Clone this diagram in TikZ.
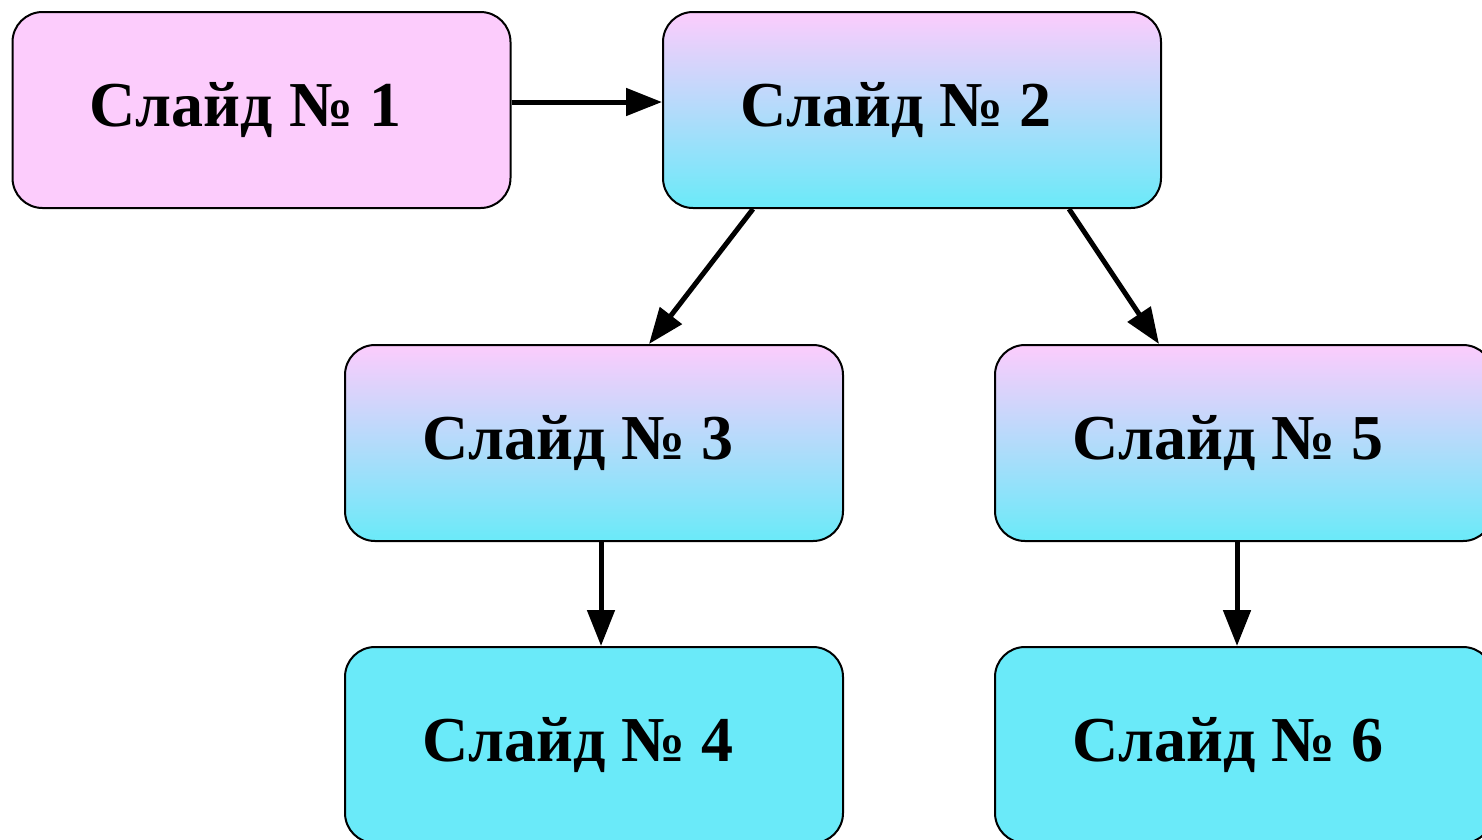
\documentclass[tikz,border=0pt]{standalone}
\usepackage{fontspec}
\setmainfont{Liberation Serif}
\usetikzlibrary{arrows.meta}
\definecolor{pinkc}{HTML}{FCCCFC}
\definecolor{cyanc}{HTML}{6AEAF9}
\tikzset{
  slide/.style={draw=black, line width=2pt, rounded corners=30pt, minimum width=498pt, minimum height=196pt, inner sep=0pt, font=\fontsize{64}{74}\selectfont\bfseries},
  pinkbox/.style={slide, fill=pinkc},
  gradbox/.style={slide, top color=pinkc, bottom color=cyanc},
  cyanbox/.style={slide, fill=cyanc},
  conn/.style={line width=5pt, -{Triangle[length=36pt,width=27pt]}}
}
\newcommand{\lbl}[1]{Слайд № #1\kern32pt}
\begin{document}
\begin{tikzpicture}[x=1pt,y=-1pt]
\useasboundingbox (0,0) rectangle (1482,839);
\clip (0,0) rectangle (1482,839);
\node[pinkbox] (n1) at (261.5,110) {\lbl{1}};
\node[gradbox] (n2) at (912,110) {\lbl{2}};
\node[gradbox] (n3) at (594,443) {\lbl{3}};
\node[gradbox] (n5) at (1244,443) {\lbl{5}};
\node[cyanbox] (n4) at (594,745) {\lbl{4}};
\node[cyanbox] (n6) at (1244,745) {\lbl{6}};
\draw[conn] ([yshift=8pt]n1.east) -- ([yshift=8pt]n2.west);
\draw[conn] ([xshift=91pt]n2.south west) -- ([xshift=305pt]n3.north west);
\draw[conn] ([xshift=407pt]n2.south west) -- ([xshift=165pt]n5.north west);
\draw[conn] ([xshift=257pt]n3.south west) -- ([xshift=257pt]n4.north west);
\draw[conn] ([xshift=243pt]n5.south west) -- ([xshift=243pt]n6.north west);
\end{tikzpicture}
\end{document}
